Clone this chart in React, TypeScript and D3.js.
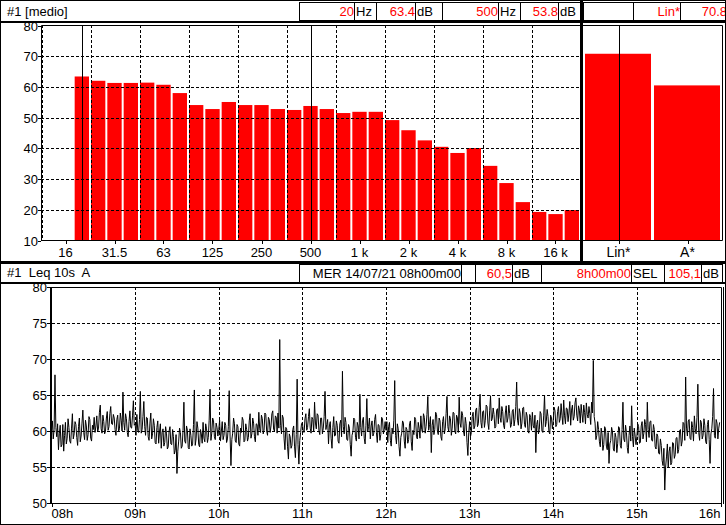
import React, { useEffect, useRef } from "react";
import * as d3 from "d3";

// third-octave bands of the spectrum panel
const bands = ["12.5", "16", "20", "25", "31.5", "40", "50", "63", "80", "100", "125", "160", "200", "250", "315", "400", "500", "630", "800", "1k", "1.25k", "1.6k", "2k", "2.5k", "3.15k", "4k", "5k", "6.3k", "8k", "10k", "12.5k", "16k", "20k"];
const bandLevels: (number | null)[] = [null, null, 63.4, 62.0, 61.3, 61.3, 61.4, 60.7, 58.0, 54.1, 52.8, 55.1, 54.1, 54.1, 52.8, 52.5, 53.8, 52.8, 51.5, 51.9, 51.9, 49.2, 45.9, 42.6, 40.5, 38.5, 40.1, 34.3, 28.7, 22.5, 19.3, 18.6, 19.9];
const bandTickKeys = ["16", "31.5", "63", "125", "250", "500", "1k", "2k", "4k", "8k", "16k"];
const bandTickLabels = ["16", "31.5", "63", "125", "250", "500", "1 k", "2 k", "4 k", "8 k", "16 k"];
const cursorBands = ["20", "500"];
const levelTicks = [10, 20, 30, 40, 50, 60, 70, 80];

// overall levels
const totals = ["Lin*", "A*"];
const totalLevels = [70.8, 60.5];

// Leq 10s A time history, one value per 37.5 s, by hour
const leq08 = [60.1, 61.4, 58.9, 60.2, 67.8, 60.5, 59.2, 61.0, 57.4, 59.6, 60.8, 57.8, 58.1, 60.9, 57.2, 59.4, 61.2, 58.2, 59.0, 61.7, 60.5, 58.6, 58.3, 60.4, 62.4, 58.9, 59.6, 61.3, 60.9, 59.1, 58.0, 60.6, 61.8, 58.5, 59.3, 61.1, 62.9, 59.8, 58.8, 61.5, 60.7, 58.7, 59.5, 62.0, 61.6, 59.0, 58.6, 60.8, 60.2, 61.9, 59.8, 60.7, 62.1, 59.9, 60.4, 62.6, 63.6, 60.3, 59.7, 62.2, 61.3, 59.6, 60.0, 61.8, 62.7, 60.1, 60.6, 62.4, 63.4, 61.0, 60.9, 62.3, 61.8, 60.2, 59.4, 61.6, 62.2, 59.9, 60.3, 62.5, 61.5, 60.0, 65.4, 61.2, 60.1, 62.4, 61.7, 59.8, 59.2, 61.3, 62.8, 60.5, 60.4, 62.1, 64.2, 60.8];
const leq09 = [61.0, 59.4, 62.3, 60.1, 59.8, 61.6, 65.5, 59.7, 60.2, 62.0, 64.1, 60.6, 59.4, 61.9, 61.8, 59.2, 58.7, 61.1, 62.5, 58.9, 59.6, 61.7, 60.8, 58.4, 58.2, 60.5, 61.4, 58.3, 59.9, 61.0, 57.6, 59.8, 60.3, 57.9, 58.4, 60.6, 59.7, 57.5, 57.8, 60.0, 60.6, 58.2, 58.1, 60.2, 59.2, 56.8, 57.3, 59.5, 54.1, 57.2, 58.6, 60.4, 59.8, 57.6, 57.9, 60.1, 64.0, 58.6, 58.3, 60.7, 60.1, 57.7, 57.5, 60.3, 59.4, 57.9, 58.2, 60.9, 65.7, 58.0, 58.9, 61.3, 60.4, 58.1, 57.8, 60.2, 59.6, 58.3, 61.2, 59.0, 58.5, 61.0, 60.3, 58.4, 59.1, 61.5, 65.8, 58.7, 59.7, 61.8, 61.4, 59.2, 58.8, 61.1, 60.5, 59.3];
const leq10 = [60.2, 61.5, 58.6, 60.0, 61.3, 58.8, 59.4, 61.2, 60.8, 58.4, 58.9, 60.6, 65.6, 59.3, 55.2, 58.8, 59.7, 61.8, 61.0, 58.6, 58.4, 60.9, 60.6, 58.2, 57.9, 60.4, 59.8, 61.9, 61.5, 58.5, 58.7, 61.0, 60.2, 58.6, 59.1, 61.4, 62.4, 59.0, 59.6, 61.8, 61.1, 59.2, 58.5, 61.0, 60.9, 59.4, 62.6, 60.3, 59.8, 62.2, 61.7, 59.6, 60.1, 62.5, 62.3, 60.0, 59.4, 61.9, 61.6, 59.8, 60.7, 62.4, 62.8, 60.2, 60.0, 62.1, 61.9, 59.7, 62.5, 60.4, 72.7, 60.8, 59.6, 62.2, 61.8, 58.9, 57.4, 60.5, 60.3, 57.8, 56.1, 59.6, 59.2, 57.6, 58.0, 60.2, 60.7, 57.9, 56.3, 59.5, 67.2, 58.1, 55.4, 58.7, 59.8, 61.0];
const leq11 = [61.2, 59.9, 59.8, 61.7, 62.4, 60.1, 60.5, 62.0, 63.1, 60.4, 59.7, 61.9, 61.6, 59.9, 64.0, 61.1, 60.3, 62.4, 62.2, 60.0, 59.5, 61.8, 61.8, 59.6, 60.4, 62.0, 65.5, 60.2, 60.9, 61.6, 58.2, 60.7, 61.3, 59.0, 57.6, 60.5, 62.0, 59.3, 59.4, 61.4, 60.8, 58.6, 58.3, 61.0, 61.5, 59.2, 68.3, 60.6, 59.6, 61.9, 61.2, 58.8, 58.7, 60.9, 60.4, 58.1, 56.5, 59.4, 59.9, 61.8, 61.6, 59.1, 58.6, 61.2, 60.7, 58.9, 65.1, 60.5, 59.3, 61.4, 61.9, 59.0, 58.2, 60.8, 64.5, 59.9, 60.6, 61.8, 58.9, 60.7, 61.4, 59.3, 59.7, 61.6, 62.3, 59.8, 58.4, 60.9, 60.8, 58.7, 59.5, 61.9, 61.7, 59.6, 60.2, 61.3];
const leq12 = [60.1, 61.3, 58.4, 60.6, 61.2, 58.7, 57.9, 60.4, 59.6, 61.5, 67.0, 59.4, 58.2, 61.0, 60.3, 57.8, 56.5, 59.1, 59.7, 61.4, 61.1, 58.6, 57.6, 60.5, 60.2, 58.3, 58.8, 61.0, 61.4, 58.5, 57.3, 60.1, 59.5, 61.9, 61.6, 59.2, 58.9, 61.2, 60.4, 59.0, 62.1, 60.2, 59.8, 62.4, 61.9, 59.7, 60.6, 62.3, 64.8, 60.1, 60.9, 62.0, 57.0, 60.8, 61.6, 59.5, 60.2, 62.6, 62.3, 60.0, 59.5, 61.8, 61.4, 59.2, 58.7, 61.3, 62.0, 59.6, 60.3, 62.4, 64.8, 60.6, 59.9, 62.1, 61.7, 59.4, 60.4, 62.6, 62.5, 60.0, 59.6, 62.2, 61.8, 59.8, 64.7, 61.1, 60.5, 62.7, 62.2, 59.9, 59.3, 61.9, 61.0, 58.4, 56.6, 59.8];
const leq13 = [61.3, 59.2, 59.8, 62.0, 62.6, 60.3, 60.7, 62.9, 63.2, 60.6, 61.0, 63.3, 65.1, 61.2, 60.4, 62.7, 62.8, 60.5, 61.5, 63.6, 63.4, 61.1, 60.2, 62.8, 64.9, 61.4, 61.7, 63.2, 62.3, 60.4, 60.6, 62.9, 63.1, 61.0, 64.6, 61.9, 61.2, 63.4, 62.7, 60.8, 60.3, 62.5, 63.5, 61.2, 61.8, 63.6, 62.4, 60.5, 60.9, 62.8, 63.0, 60.7, 61.6, 63.4, 66.8, 61.5, 60.8, 63.1, 62.5, 60.3, 61.1, 63.2, 63.3, 60.9, 60.5, 62.6, 62.1, 59.9, 59.7, 62.3, 61.9, 60.1, 62.6, 60.8, 60.4, 62.2, 57.0, 60.9, 61.5, 59.6, 60.2, 62.7, 62.4, 60.0, 59.8, 62.1, 65.0, 60.6, 61.3, 63.0, 62.0, 59.9, 59.6, 62.2, 61.8, 60.3];
const leq14 = [61.5, 63.3, 62.8, 60.6, 60.9, 62.7, 63.4, 61.2, 61.7, 63.8, 62.2, 60.9, 64.3, 62.1, 61.0, 63.2, 63.1, 61.3, 62.5, 64.1, 60.8, 62.9, 63.6, 61.5, 62.0, 63.9, 64.6, 62.2, 61.4, 63.5, 62.9, 61.1, 63.7, 62.4, 61.2, 63.6, 62.6, 61.0, 63.9, 62.3, 61.8, 63.4, 62.4, 60.9, 64.0, 62.5, 69.8, 62.0, 61.1, 58.8, 59.4, 61.3, 60.2, 58.5, 57.8, 60.4, 59.6, 57.3, 58.1, 60.6, 60.3, 57.9, 57.4, 59.8, 55.5, 58.2, 58.7, 60.5, 59.9, 57.5, 57.2, 59.7, 59.1, 57.0, 58.3, 60.6, 60.4, 58.0, 57.6, 60.2, 64.0, 58.9, 58.5, 60.8, 59.8, 57.7, 56.9, 59.4, 60.7, 58.6, 63.5, 59.2, 57.8, 60.4, 59.3, 58.1];
const leq15 = [59.2, 61.0, 60.6, 58.3, 58.4, 60.7, 61.3, 58.9, 59.7, 61.6, 60.9, 58.5, 64.0, 60.2, 59.1, 61.3, 61.4, 58.7, 58.6, 60.9, 60.2, 57.8, 57.5, 59.6, 59.3, 56.9, 56.8, 58.9, 58.0, 55.9, 55.2, 57.6, 51.8, 55.0, 56.4, 58.2, 54.9, 57.1, 57.8, 55.3, 55.6, 58.4, 58.3, 56.2, 56.7, 59.0, 59.1, 56.9, 57.4, 60.0, 60.2, 57.9, 58.6, 61.2, 61.0, 58.7, 67.5, 60.4, 59.3, 61.4, 61.6, 59.0, 58.8, 61.3, 60.5, 58.6, 62.1, 60.3, 59.6, 61.9, 66.5, 59.8, 58.7, 61.5, 61.2, 58.9, 59.4, 61.7, 60.8, 58.5, 58.2, 60.9, 61.5, 58.8, 55.5, 59.6, 60.3, 62.0, 65.9, 59.4, 59.0, 61.6, 61.1, 58.9, 60.4, 61.2];
const leqSeries = [...leq08, ...leq09, ...leq10, ...leq11, ...leq12, ...leq13, ...leq14, ...leq15];
const stepHours = 37.5 / 3600;
const hourTicks = [8, 9, 10, 11, 12, 13, 14, 15, 16];
const hourLabels = ["08h", "09h", "10h", "11h", "12h", "13h", "14h", "15h", "16h"];
const leqTicks = [50, 55, 60, 65, 70, 75, 80];

const W = 726,
	H = 525;
const RED = "#ff0000";
const DASH = "3,2";

function draw(ref: SVGSVGElement | null) {
	if (!ref) return;
	const svg = d3.select(ref);
	svg.selectAll("*").remove();
	svg.append("rect").attr("width", W).attr("height", H).attr("fill", "white");

	// header box: outlined cell with value text
	function box(g: d3.Selection<SVGGElement, unknown, null, undefined>, x0: number, x1: number, y0: number, y1: number, text: string, color: string, align: "left" | "right") {
		g.append("rect")
			.attr("x", x0 + 0.5)
			.attr("y", y0 + 0.5)
			.attr("width", x1 - x0)
			.attr("height", y1 - y0)
			.attr("fill", "white")
			.attr("stroke", "black");
		if (!text) return;
		g.append("text")
			.attr("x", align === "right" ? x1 : x0 + 2)
			.attr("y", y1 - 4)
			.attr("text-anchor", align === "right" ? "end" : "start")
			.attr("fill", color)
			.text(text);
	}

	// ---------- spectrum (top left)
	const x = d3.scaleBand<string>().domain(bands).range([41, 580]);
	const y = d3.scaleLinear().domain([10, 80]).range([240.5, 25.5]);
	const spec = svg.append("g");

	const barData = bands.map((b, i) => ({ b, v: bandLevels[i] })).filter((d) => d.v !== null) as { b: string; v: number }[];
	spec.selectAll("rect.bar")
		.data(barData)
		.join("rect")
		.attr("class", "bar")
		.attr("x", (d) => x(d.b)! + 1)
		.attr("width", x.bandwidth() - 2)
		.attr("y", (d) => y(d.v))
		.attr("height", (d) => y(10) - y(d.v))
		.attr("fill", RED);

	// grid over the bars
	spec.selectAll("line.hgrid")
		.data(levelTicks.filter((v) => v > 10 && v < 80))
		.join("line")
		.attr("x1", 41)
		.attr("x2", 580)
		.attr("y1", (d) => Math.round(y(d)) + 0.5)
		.attr("y2", (d) => Math.round(y(d)) + 0.5)
		.attr("stroke", "black")
		.attr("stroke-dasharray", DASH);
	spec.selectAll("line.vgrid")
		.data(bands.filter((_, i) => i % 3 === 0))
		.join("line")
		.attr("x1", (d) => Math.round(x(d)!) + 1.5)
		.attr("x2", (d) => Math.round(x(d)!) + 1.5)
		.attr("y1", 25)
		.attr("y2", 240)
		.attr("stroke", "black")
		.attr("stroke-dasharray", DASH);

	// cursors
	spec.selectAll("line.cursor")
		.data(cursorBands)
		.join("line")
		.attr("x1", (d) => Math.round(x(d)! + x.bandwidth() / 2) + 0.5)
		.attr("x2", (d) => Math.round(x(d)! + x.bandwidth() / 2) + 0.5)
		.attr("y1", 25)
		.attr("y2", 240)
		.attr("stroke", "black");

	// frame
	spec.append("path").attr("d", "M41.5,240.5V25.5H580 M41,240.5H580").attr("fill", "none").attr("stroke", "black");

	// level axis
	spec.selectAll("line.ytick")
		.data(levelTicks)
		.join("line")
		.attr("x1", 38)
		.attr("x2", 41)
		.attr("y1", (d) => Math.round(y(d)) + 0.5)
		.attr("y2", (d) => Math.round(y(d)) + 0.5)
		.attr("stroke", "black");
	spec.selectAll("text.ylab")
		.data(levelTicks)
		.join("text")
		.attr("x", 38)
		.attr("y", (d) => y(d) + 5)
		.attr("text-anchor", "end")
		.attr("font-size", 13)
		.text((d) => d);

	// band axis
	spec.selectAll("line.xtick")
		.data(bandTickKeys)
		.join("line")
		.attr("x1", (d) => Math.round(x(d)! + x.bandwidth() / 2) + 0.5)
		.attr("x2", (d) => Math.round(x(d)! + x.bandwidth() / 2) + 0.5)
		.attr("y1", 240)
		.attr("y2", 244)
		.attr("stroke", "black");
	spec.selectAll("text.xlab")
		.data(bandTickKeys)
		.join("text")
		.attr("x", (d) => x(d)! + x.bandwidth() / 2)
		.attr("y", 257)
		.attr("text-anchor", "middle")
		.text((_, i) => bandTickLabels[i]);

	// ---------- overall levels (top right)
	const xt = d3.scaleBand<string>().domain(totals).range([584, 722]);
	const tot = svg.append("g");
	tot.selectAll("rect")
		.data(totals)
		.join("rect")
		.attr("x", (d) => xt(d)! + 1)
		.attr("width", xt.bandwidth() - 3)
		.attr("y", (_, i) => y(totalLevels[i]))
		.attr("height", (_, i) => y(10) - y(totalLevels[i]))
		.attr("fill", RED);
	tot.append("line")
		.attr("x1", Math.round(xt("Lin*")! + xt.bandwidth() / 2) + 0.5)
		.attr("x2", Math.round(xt("Lin*")! + xt.bandwidth() / 2) + 0.5)
		.attr("y1", 25)
		.attr("y2", 240)
		.attr("stroke", "black");
	tot.append("path").attr("d", "M583,25.5H722.5V240.5H583").attr("fill", "none").attr("stroke", "black");
	tot.selectAll("line.tick")
		.data(totals)
		.join("line")
		.attr("x1", (d) => Math.round(xt(d)! + xt.bandwidth() / 2) + 0.5)
		.attr("x2", (d) => Math.round(xt(d)! + xt.bandwidth() / 2) + 0.5)
		.attr("y1", 240)
		.attr("y2", 244)
		.attr("stroke", "black");
	tot.selectAll("text")
		.data(totals)
		.join("text")
		.attr("x", (d) => xt(d)! + xt.bandwidth() / 2)
		.attr("y", 257)
		.attr("text-anchor", "middle")
		.attr("font-size", 14)
		.text((d) => d);

	// ---------- time history (bottom)
	const xh = d3.scaleLinear().domain([8, 16]).range([51.5, 720.5]);
	const yh = d3.scaleLinear().domain([50, 80]).range([503, 287]);
	const hist = svg.append("g");

	hist.selectAll("line.hgrid")
		.data(leqTicks.filter((v) => v > 50 && v < 80))
		.join("line")
		.attr("x1", 52)
		.attr("x2", 721)
		.attr("y1", (d) => Math.round(yh(d)) + 0.5)
		.attr("y2", (d) => Math.round(yh(d)) + 0.5)
		.attr("stroke", "black")
		.attr("stroke-dasharray", DASH);
	hist.selectAll("line.vgrid")
		.data(hourTicks.filter((h) => h > 8 && h < 16))
		.join("line")
		.attr("x1", (d) => Math.round(xh(d)) + 0.5)
		.attr("x2", (d) => Math.round(xh(d)) + 0.5)
		.attr("y1", 287)
		.attr("y2", 503)
		.attr("stroke", "black")
		.attr("stroke-dasharray", DASH);

	const line = d3
		.line<number>()
		.x((_, i) => xh(8 + i * stepHours))
		.y((d) => yh(d));
	hist.append("path").attr("d", line(leqSeries)!).attr("fill", "none").attr("stroke", "black").attr("stroke-width", 1);

	// frame
	hist.append("path").attr("d", "M51,287.5H721.5V503.5H51").attr("fill", "none").attr("stroke", "black");
	hist.append("line").attr("x1", 723.5).attr("x2", 723.5).attr("y1", 287).attr("y2", 504).attr("stroke", "black");
	hist.append("line").attr("x1", 51).attr("x2", 51).attr("y1", 287).attr("y2", 504).attr("stroke", "black").attr("stroke-width", 2);

	hist.selectAll("line.ytick")
		.data(leqTicks)
		.join("line")
		.attr("x1", 47)
		.attr("x2", 51)
		.attr("y1", (d) => Math.round(yh(d)) + 0.5)
		.attr("y2", (d) => Math.round(yh(d)) + 0.5)
		.attr("stroke", "black");
	hist.selectAll("text.ylab")
		.data(leqTicks)
		.join("text")
		.attr("x", 47)
		.attr("y", (d) => yh(d) + 5)
		.attr("text-anchor", "end")
		.text((d) => d);
	hist.selectAll("line.xtick")
		.data(hourTicks)
		.join("line")
		.attr("x1", (d) => Math.round(xh(d)) + 0.5)
		.attr("x2", (d) => Math.round(xh(d)) + 0.5)
		.attr("y1", 503)
		.attr("y2", 507)
		.attr("stroke", "black");
	hist.selectAll("text.xlab")
		.data(hourTicks)
		.join("text")
		.attr("x", (d) => xh(d))
		.attr("y", 518)
		.attr("text-anchor", (_, i) => (i === 0 ? "start" : i === hourTicks.length - 1 ? "end" : "middle"))
		.text((_, i) => hourLabels[i]);

	// ---------- headers
	const head = svg.append("g");
	head.append("text").attr("x", 7).attr("y", 16).text("#1 [medio]");
	box(head, 299, 354, 2, 20, "20", RED, "right");
	box(head, 354, 376, 2, 20, "Hz", "black", "left");
	box(head, 376, 415, 2, 20, "63.4", RED, "right");
	box(head, 415, 442, 2, 20, "dB", "black", "left");
	box(head, 442, 498, 2, 20, "500", RED, "right");
	box(head, 498, 520, 2, 20, "Hz", "black", "left");
	box(head, 520, 558, 2, 20, "53.8", RED, "right");
	box(head, 558, 580, 2, 20, "dB", "black", "left");
	box(head, 583, 633, 2, 20, "", "black", "left");
	box(head, 633, 680, 2, 20, "Lin*", RED, "right");
	box(head, 680, 727, 2, 20, "70.8", RED, "right");

	head.append("text").attr("x", 7).attr("y", 277).style("white-space", "pre").text("#1  Leq 10s  A");
	box(head, 299, 461, 264, 282, "MER 14/07/21 08h00m00", "black", "right");
	box(head, 461, 475, 264, 282, "", "black", "left");
	box(head, 475, 512, 264, 282, "60,5", RED, "right");
	box(head, 512, 541, 264, 282, "dB", "black", "left");
	box(head, 541, 631, 264, 282, "8h00m00", RED, "right");
	box(head, 631, 664, 264, 282, "SEL", "black", "left");
	box(head, 664, 701, 264, 282, "105,1", RED, "right");
	box(head, 701, 722, 264, 282, "dB", "black", "left");

	// panel separators and outer border
	const sep = svg.append("g").attr("fill", "black");
	sep.append("rect").attr("x", 0).attr("y", 21).attr("width", W).attr("height", 2);
	sep.append("rect").attr("x", 580).attr("y", 0).attr("width", 3).attr("height", 263);
	sep.append("rect").attr("x", 0).attr("y", 261).attr("width", W).attr("height", 3);
	sep.append("rect").attr("x", 0).attr("y", 282).attr("width", W).attr("height", 2);
	svg.append("rect").attr("x", 0.5).attr("y", 0.5).attr("width", W - 1).attr("height", H - 1).attr("fill", "none").attr("stroke", "black");
}

export default function App() {
	const ref = useRef<SVGSVGElement>(null);
	useEffect(() => {
		draw(ref.current);
	}, []);
	return (
		<svg
			ref={ref}
			width={W}
			height={H}
			viewBox={`0 0 ${W} ${H}`}
			fontFamily="'Liberation Sans', Arial, sans-serif"
			fontSize={13}
			style={{ position: "absolute", left: 0, top: 0 }}
		/>
	);
}
